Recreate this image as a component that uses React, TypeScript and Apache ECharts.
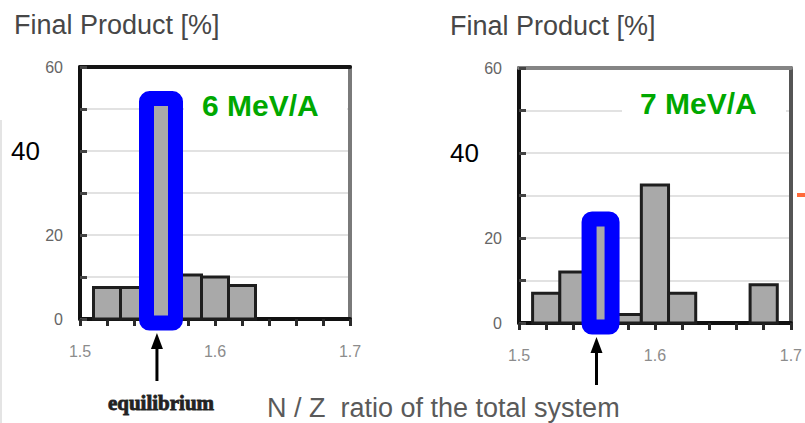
import React, { useEffect, useRef } from "react";
import * as echarts from "echarts";

// Histogram bins of N/Z (bin start values), width 0.02
const binWidth = 0.02;
const binStarts6 = [1.51, 1.53, 1.55, 1.57, 1.59, 1.61];
const yield6 = [7.5, 7.5, 52, 10.5, 10, 8];
const binStarts7 = [1.51, 1.53, 1.55, 1.57, 1.59, 1.61, 1.67];
const yield7 = [7, 12, 24, 2, 32.5, 7, 9];

// Equilibrium bin (highlighted) and equilibrium N/Z ratio (arrow)
const equilibriumBinStart = 1.55;
const equilibriumNZ = 1.557;

const energyLabels = ["6 MeV/A", "7 MeV/A"];
const yTitle = "Final Product [%]";
const xTitle = "N / Z  ratio of the total system";
const arrowCaption = "equilibrium";
const xTickLabels = [1.5, 1.6, 1.7];
const yTickLabels = [0, 20, 60];
const bigYLabel = 40;

const SANS = '"Liberation Sans", Arial, sans-serif';
const SERIF = '"Liberation Serif", "Times New Roman", serif';

type Panel = {
  starts: number[];
  values: number[];
  grid: { left: number; top: number; width: number; height: number };
  topColor: string;
  rightColor: string;
  boxHalf: number;
  caption: boolean;
};

const panels: Panel[] = [
  {
    starts: binStarts6,
    values: yield6,
    grid: { left: 80, top: 67, width: 270, height: 252 },
    topColor: "#151515",
    rightColor: "#7a7a7a",
    boxHalf: 14.5,
    caption: true,
  },
  {
    starts: binStarts7,
    values: yield7,
    grid: { left: 519, top: 68, width: 275, height: 255 },
    topColor: "#858585",
    rightColor: "#555",
    boxHalf: 11.5,
    caption: false,
  },
];

function buildOption() {
  const grid: any[] = [];
  const xAxis: any[] = [];
  const yAxis: any[] = [];
  const series: any[] = [];

  panels.forEach((p, i) => {
    grid.push({ ...p.grid, containLabel: false });
    const xMain = xAxis.length;
    xAxis.push({
      gridIndex: i,
      type: "value",
      min: 1.5,
      max: 1.7,
      interval: 0.02,
      position: "bottom",
      axisLine: { show: true, onZero: false, lineStyle: { color: "#111", width: 4 } },
      axisTick: { show: true, inside: false, length: 7, lineStyle: { color: "#2a2a2a", width: 3 } },
      axisLabel: {
        margin: 24,
        color: "#8c8c8c",
        fontSize: 16,
        fontFamily: SANS,
        formatter: (v: number) =>
          xTickLabels.some((t) => Math.abs(t - v) < 1e-6) ? v.toFixed(1) : "",
      },
      splitLine: { show: false },
    });
    xAxis.push({
      gridIndex: i,
      type: "value",
      min: 1.5,
      max: 1.7,
      position: "top",
      axisLine: { show: true, onZero: false, lineStyle: { color: p.topColor, width: 4 } },
      axisTick: { show: false },
      axisLabel: { show: false },
      splitLine: { show: false },
    });
    const yMain = yAxis.length;
    yAxis.push({
      gridIndex: i,
      type: "value",
      min: 0,
      max: 60,
      interval: 10,
      position: "left",
      axisLine: { show: true, onZero: false, lineStyle: { color: "#111", width: 4 } },
      axisTick: { show: true, inside: true, length: 7, lineStyle: { color: "#444", width: 3 } },
      axisLabel: {
        margin: 17,
        formatter: (v: number) =>
          v === bigYLabel ? `{big|${v}}` : yTickLabels.includes(v) ? `{s|${v}}` : "",
        rich: {
          big: { fontSize: 26, color: "#000", fontFamily: SANS, padding: [0, 23, 0, 0] },
          s: { fontSize: 16, color: "#666", fontFamily: SANS },
        },
      },
      splitLine: { show: true, lineStyle: { color: "#e2e2e2", width: 2 } },
    });
    yAxis.push({
      gridIndex: i,
      type: "value",
      min: 0,
      max: 60,
      position: "right",
      axisLine: { show: true, onZero: false, lineStyle: { color: p.rightColor, width: 4 } },
      axisTick: { show: false },
      axisLabel: { show: false },
      splitLine: { show: false },
    });

    // histogram bars
    series.push({
      type: "custom",
      xAxisIndex: xMain,
      yAxisIndex: yMain,
      encode: { x: 0, y: 1 },
      data: p.starts.map((s, k) => [s, p.values[k]]),
      z: 3,
      renderItem: (_params: any, api: any) => {
        const x0 = api.value(0);
        const v = api.value(1);
        const a = api.coord([x0, v]);
        const b = api.coord([x0 + binWidth, 0]);
        return {
          type: "rect",
          shape: { x: a[0], y: a[1], width: b[0] - a[0], height: b[1] - a[1] },
          style: { fill: "#a9a9a9", stroke: "#1e1e1e", lineWidth: 3 },
        };
      },
    });

    // highlighted equilibrium bin and the arrow below it
    const hk = p.starts.findIndex((s) => Math.abs(s - equilibriumBinStart) < 1e-9);
    series.push({
      type: "custom",
      xAxisIndex: xMain,
      yAxisIndex: yMain,
      encode: { x: 0, y: 1 },
      data: [[p.starts[hk], p.values[hk]]],
      z: 5,
      renderItem: (_params: any, api: any) => {
        const x0 = api.value(0);
        const v = api.value(1);
        const top = api.coord([x0 + binWidth / 2, v]);
        const zero = api.coord([x0 + binWidth / 2, 0]);
        const cx = top[0];
        const ax = api.coord([equilibriumNZ, 0])[0];
        const y0 = zero[1];
        const children: any[] = [
          {
            type: "rect",
            shape: {
              x: cx - p.boxHalf,
              y: top[1] - 2,
              width: p.boxHalf * 2,
              height: y0 + 4 - (top[1] - 2),
              r: 3,
            },
            style: { fill: "none", stroke: "#0000ff", lineWidth: 15 },
          },
          {
            type: "line",
            shape: { x1: ax, y1: y0 + 26, x2: ax, y2: y0 + 62 },
            style: { stroke: "#000", lineWidth: 3 },
          },
          {
            type: "polygon",
            shape: {
              points: [
                [ax, y0 + 14],
                [ax - 6, y0 + 30],
                [ax + 6, y0 + 30],
              ],
            },
            style: { fill: "#000" },
          },
        ];
        if (p.caption) {
          children.push({
            type: "text",
            style: {
              text: arrowCaption,
              x: cx,
              y: y0 + 84,
              align: "center",
              verticalAlign: "middle",
              fontSize: 21,
              fontWeight: "bold",
              fontFamily: SERIF,
              fill: "#222",
              stroke: "#333",
              lineWidth: 0.9,
            },
          });
        }
        return { type: "group", children };
      },
    });
  });

  const graphic: any[] = [
    // faint scan edge on the left
    { type: "rect", shape: { x: 0, y: 120, width: 2, height: 303 }, style: { fill: "#e4e4e4" }, z: 1 },
    // y titles
    {
      type: "text",
      style: { text: yTitle, x: 14, y: 25, verticalAlign: "middle", fontSize: 27, fontFamily: SANS, fill: "#474747" },
    },
    {
      type: "text",
      style: { text: yTitle, x: 450, y: 26, verticalAlign: "middle", fontSize: 27, fontFamily: SANS, fill: "#474747" },
    },
    // x title
    {
      type: "text",
      style: { text: xTitle, x: 267, y: 408, verticalAlign: "middle", fontSize: 27, fontFamily: SANS, fill: "#5a5a5a" },
    },
    // energy labels with white backing
    { type: "rect", shape: { x: 184, y: 88, width: 163, height: 32 }, style: { fill: "#fff" }, z: 50 },
    {
      type: "text",
      z: 51,
      style: {
        text: energyLabels[0],
        x: 202,
        y: 105,
        verticalAlign: "middle",
        fontSize: 30,
        fontWeight: "bold",
        fontFamily: SANS,
        fill: "#00a800",
      },
    },
    { type: "rect", shape: { x: 622, y: 88, width: 164, height: 32 }, style: { fill: "#fff" }, z: 50 },
    {
      type: "text",
      z: 51,
      style: {
        text: energyLabels[1],
        x: 640,
        y: 103,
        verticalAlign: "middle",
        fontSize: 30,
        fontWeight: "bold",
        fontFamily: SANS,
        fill: "#00a800",
      },
    },
    // small marker at the right edge
    { type: "rect", shape: { x: 797, y: 193, width: 8, height: 4 }, style: { fill: "#ff6a3a" }, z: 50 },
  ];

  return { animation: false, backgroundColor: "#fff", grid, xAxis, yAxis, series, graphic };
}

export default function App() {
  const ref = useRef<HTMLDivElement>(null);
  useEffect(() => {
    document.body.style.margin = "0";
    if (!ref.current) return;
    const chart = echarts.init(ref.current, undefined, { renderer: "svg" });
    chart.setOption(buildOption() as any);
    return () => chart.dispose();
  }, []);
  return <div ref={ref} style={{ width: 805, height: 423 }} />;
}
